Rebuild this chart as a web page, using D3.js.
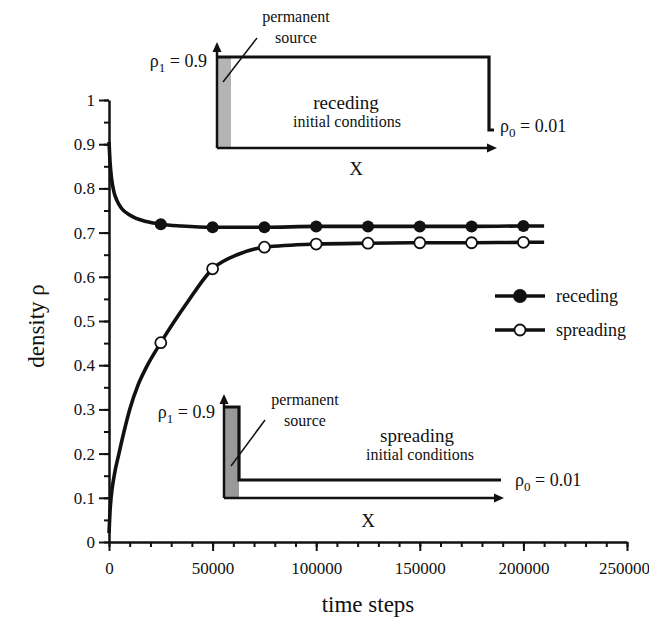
<!DOCTYPE html>
<html>
<head>
<meta charset="utf-8">
<script src="https://cdn.jsdelivr.net/npm/d3@7"></script>
<style>
  body { margin: 0; background: #fff; }
  text { font-family: "Liberation Serif", "Times New Roman", serif; fill: #111; }
</style>
</head>
<body>
<script>
// sampled points (markers)
var markerSteps = [25000, 50000, 75000, 100000, 125000, 150000, 175000, 200000];
var recedingMarks = [0.719, 0.712, 0.712, 0.714, 0.714, 0.714, 0.714, 0.715];
var spreadingMarks = [0.451, 0.618, 0.667, 0.674, 0.676, 0.677, 0.677, 0.678];

// the smooth curves
var recedingSteps = [0, 500, 1300, 2500, 3700, 6000, 10000, 18000, 25000, 35000, 50000, 75000, 100000, 125000, 150000, 175000, 200000, 210000];
var recedingCurve = [0.905, 0.86, 0.82, 0.79, 0.774, 0.755, 0.74, 0.725, 0.719, 0.715, 0.712, 0.712, 0.714, 0.714, 0.714, 0.714, 0.715, 0.715];
var spreadingSteps = [0, 500, 1000, 2500, 4800, 7000, 10000, 14000, 18000, 25000, 37500, 50000, 62500, 75000, 100000, 125000, 150000, 175000, 200000, 210000];
var spreadingCurve = [0.02, 0.07, 0.1, 0.15, 0.2, 0.245, 0.3, 0.355, 0.395, 0.451, 0.54, 0.618, 0.651, 0.667, 0.674, 0.676, 0.677, 0.677, 0.678, 0.678];

var xTicks = [0, 50000, 100000, 150000, 200000, 250000];
var yTicks = [0, 0.1, 0.2, 0.3, 0.4, 0.5, 0.6, 0.7, 0.8, 0.9, 1];
var seriesNames = ["receding", "spreading"];

var W = 649, H = 621;
var svg = d3.select("body").append("svg")
  .attr("width", W)
  .attr("height", H);

var x = d3.scaleLinear().domain([0, 250000]).range([109, 627]);
var y = d3.scaleLinear().domain([0, 1]).range([542, 100]);

// axes
var xMinor = d3.range(0, 250001, 10000);
var yMinor = d3.range(0, 1.0001, 0.05);

svg.append("g").attr("transform", "translate(0,542)")
  .call(d3.axisBottom(x).tickValues(xMinor).tickSize(5).tickFormat(""))
  .call(function(g) { g.select(".domain").remove(); });
svg.append("g").attr("class", "xaxis").attr("transform", "translate(0,542)")
  .call(d3.axisBottom(x).tickValues(xTicks).tickSize(9).tickSizeOuter(0).tickPadding(8).tickFormat(d3.format("d")));
svg.append("g").attr("transform", "translate(109,0)")
  .call(d3.axisLeft(y).tickValues(yMinor).tickSize(5).tickFormat(""))
  .call(function(g) { g.select(".domain").remove(); });
svg.append("g").attr("class", "yaxis").attr("transform", "translate(109,0)")
  .call(d3.axisLeft(y).tickValues(yTicks).tickSize(10).tickSizeOuter(0).tickPadding(4).tickFormat(d3.format(".1~f")));

svg.selectAll(".domain").attr("stroke", "#111").attr("stroke-width", 2.5);
svg.selectAll(".tick line").attr("stroke", "#111").attr("stroke-width", 2);
svg.selectAll(".tick text").style("font-family", "Liberation Serif").style("font-size", "17px").attr("fill", "#111");
svg.selectAll(".xaxis .tick text").attr("dy", "0.9em");
svg.selectAll(".xaxis .tick:last-of-type text").attr("dx", -3);

svg.append("text").attr("x", 368).attr("y", 612).attr("text-anchor", "middle")
  .style("font-size", "23px").text("time steps");
svg.append("text").attr("transform", "translate(44,326) rotate(-90)").attr("text-anchor", "middle")
  .style("font-size", "23px").text("density ρ");

// curves
var line = d3.line()
  .x(function(d) { return x(d[0]); })
  .y(function(d) { return y(d[1]); })
  .curve(d3.curveMonotoneX);

svg.append("path").datum(d3.zip(recedingSteps, recedingCurve))
  .attr("d", line).attr("fill", "none").attr("stroke", "#111").attr("stroke-width", 3.6);
svg.append("path").datum(d3.zip(spreadingSteps, spreadingCurve))
  .attr("d", line).attr("fill", "none").attr("stroke", "#111").attr("stroke-width", 3.6);

svg.selectAll(".mRec").data(d3.zip(markerSteps, recedingMarks)).enter().append("circle")
  .attr("cx", function(d) { return x(d[0]); })
  .attr("cy", function(d) { return y(d[1]); })
  .attr("r", 6).attr("fill", "#111");
svg.selectAll(".mSpr").data(d3.zip(markerSteps, spreadingMarks)).enter().append("circle")
  .attr("cx", function(d) { return x(d[0]); })
  .attr("cy", function(d) { return y(d[1]); })
  .attr("r", 5.5).attr("fill", "#fff").attr("stroke", "#111").attr("stroke-width", 1.8);

// legend
var legend = svg.selectAll(".leg").data(seriesNames).enter().append("g")
  .attr("transform", function(d, i) { return "translate(495," + (296 + i * 34) + ")"; });
legend.append("line").attr("x1", 0).attr("x2", 50).attr("stroke", "#111").attr("stroke-width", 3.6);
legend.append("circle").attr("cx", 25).attr("r", function(d, i) { return i === 0 ? 6 : 5.5; })
  .attr("fill", function(d, i) { return i === 0 ? "#111" : "#fff"; })
  .attr("stroke", "#111").attr("stroke-width", 1.8);
legend.append("text").attr("x", 61).attr("y", 6).style("font-size", "18px").text(function(d) { return d; });

// small arrow heads
function arrowUp(g, ax, ay) {
  g.append("path").attr("d", "M" + (ax - 4.5) + "," + (ay + 10) + "L" + ax + "," + ay + "L" + (ax + 4.5) + "," + (ay + 10) + "Z").attr("fill", "#111");
}
function arrowRight(g, ax, ay) {
  g.append("path").attr("d", "M" + (ax - 10) + "," + (ay - 4.5) + "L" + ax + "," + ay + "L" + (ax - 10) + "," + (ay + 4.5) + "Z").attr("fill", "#111");
}
function rhoLabel(g, tx, ty, sub, val, anchor) {
  var t = g.append("text").attr("x", tx).attr("y", ty).attr("text-anchor", anchor).style("font-size", "18px");
  t.append("tspan").text("ρ");
  t.append("tspan").attr("dy", 5).style("font-size", "13px").text(sub);
  t.append("tspan").attr("dy", -5).text(" = " + val);
}

// receding inset
var inTop = svg.append("g");
inTop.append("rect").attr("x", 217).attr("y", 57).attr("width", 14).attr("height", 91).attr("fill", "#b4b4b4");
inTop.append("path").attr("d", "M217,148V51").attr("stroke", "#111").attr("stroke-width", 2.5);
arrowUp(inTop, 217, 42);
inTop.append("path").attr("d", "M217,148H489").attr("stroke", "#111").attr("stroke-width", 2.5);
arrowRight(inTop, 497, 148);
inTop.append("path").attr("d", "M217,57H489V130H494").attr("fill", "none").attr("stroke", "#111").attr("stroke-width", 3.2);
inTop.append("path").attr("d", "M223,82L257,38").attr("stroke", "#111").attr("stroke-width", 1.5);
rhoLabel(inTop, 207, 67, "1", "0.9", "end");
rhoLabel(inTop, 500, 132, "0", "0.01", "start");
inTop.append("text").attr("x", 296).attr("y", 22).attr("text-anchor", "middle").style("font-size", "16px").text("permanent");
inTop.append("text").attr("x", 296).attr("y", 43).attr("text-anchor", "middle").style("font-size", "16px").text("source");
inTop.append("text").attr("x", 346).attr("y", 109).attr("text-anchor", "middle").style("font-size", "19px").text("receding");
inTop.append("text").attr("x", 347).attr("y", 127).attr("text-anchor", "middle").style("font-size", "16px").text("initial conditions");
inTop.append("text").attr("x", 356).attr("y", 175).attr("text-anchor", "middle").style("font-size", "19px").text("X");

// spreading inset
var inBot = svg.append("g");
inBot.append("rect").attr("x", 224).attr("y", 407).attr("width", 15).attr("height", 91).attr("fill", "#999");
inBot.append("path").attr("d", "M224,498V403").attr("stroke", "#111").attr("stroke-width", 2.5);
arrowUp(inBot, 224, 394);
inBot.append("path").attr("d", "M224,498H496").attr("stroke", "#111").attr("stroke-width", 2.5);
arrowRight(inBot, 504, 498);
inBot.append("path").attr("d", "M224,407H239V480H501").attr("fill", "none").attr("stroke", "#111").attr("stroke-width", 3.2);
inBot.append("path").attr("d", "M231,466L265,420").attr("stroke", "#111").attr("stroke-width", 1.5);
rhoLabel(inBot, 215, 418, "1", "0.9", "end");
rhoLabel(inBot, 515, 486, "0", "0.01", "start");
inBot.append("text").attr("x", 305).attr("y", 405).attr("text-anchor", "middle").style("font-size", "16px").text("permanent");
inBot.append("text").attr("x", 305).attr("y", 426).attr("text-anchor", "middle").style("font-size", "16px").text("source");
inBot.append("text").attr("x", 417).attr("y", 442).attr("text-anchor", "middle").style("font-size", "19px").text("spreading");
inBot.append("text").attr("x", 420).attr("y", 460).attr("text-anchor", "middle").style("font-size", "16px").text("initial conditions");
inBot.append("text").attr("x", 368).attr("y", 527).attr("text-anchor", "middle").style("font-size", "19px").text("X");
</script>
</body>
</html>
